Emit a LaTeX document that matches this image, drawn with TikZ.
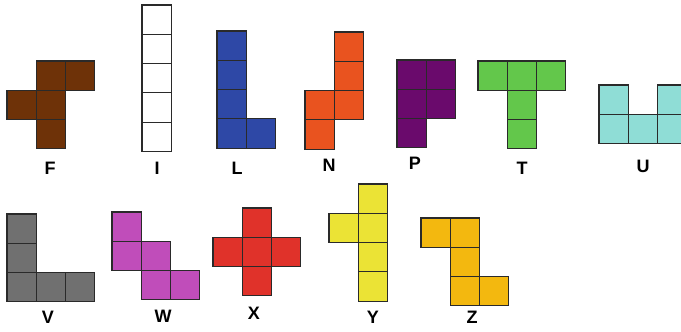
\documentclass[tikz,border=0pt]{standalone}
\usepackage{fontspec}
\setmainfont{Liberation Sans}
\definecolor{cF}{HTML}{6E3208}
\definecolor{cI}{HTML}{FFFFFF}
\definecolor{cL}{HTML}{2E48A6}
\definecolor{cN}{HTML}{E9531F}
\definecolor{cP}{HTML}{6A0A6C}
\definecolor{cT}{HTML}{63C74B}
\definecolor{cU}{HTML}{8FDDD6}
\definecolor{cV}{HTML}{707070}
\definecolor{cW}{HTML}{C04DBA}
\definecolor{cX}{HTML}{E0322A}
\definecolor{cY}{HTML}{EBE335}
\definecolor{cZ}{HTML}{F3B80F}
\definecolor{edge}{HTML}{2A2A2A}
\newcommand{\pent}[4]{% origin x, origin y, color, list of cells
  \foreach \cx/\cy in {#4}{
    \filldraw[cellbox, fill=#3] ({#1+\cx*29.3},{#2+\cy*29.3}) rectangle ++(29.3,29.3);
  }}
\begin{document}
\begin{tikzpicture}[x=1pt,y=-1pt,
  cellbox/.style={draw=edge, line width=1.1pt},
  lbl/.style={font=\fontsize{18}{18}\selectfont\bfseries, text=black, inner sep=0pt}]
\useasboundingbox (0,0) rectangle (681,332);
\pent{7}{61}{cF}{1/0,2/0,0/1,1/1,1/2}
\pent{142}{5}{cI}{0/0,0/1,0/2,0/3,0/4}
\pent{217}{31}{cL}{0/0,0/1,0/2,0/3,1/3}
\pent{305}{32}{cN}{1/0,1/1,1/2,0/2,0/3}
\pent{397}{60}{cP}{0/0,1/0,0/1,1/1,0/2}
\pent{478}{61}{cT}{0/0,1/0,2/0,1/1,1/2}
\pent{599}{85}{cU}{0/0,2/0,0/1,1/1,2/1}
\pent{7}{214}{cV}{0/0,0/1,0/2,1/2,2/2}
\pent{112}{212}{cW}{0/0,0/1,1/1,1/2,2/2}
\pent{213}{208}{cX}{1/0,0/1,1/1,2/1,1/2}
\pent{329}{184}{cY}{1/0,0/1,1/1,1/2,1/3}
\pent{421}{218}{cZ}{0/0,1/0,1/1,1/2,2/2}
\node[lbl] (lF) at (50,168) {F};
\node[lbl] (lI) at (157,168) {I};
\node[lbl] (lL) at (237,168) {L};
\node[lbl] (lN) at (329,165) {N};
\node[lbl] (lP) at (415,163) {P};
\node[lbl] (lT) at (522,168) {T};
\node[lbl] (lU) at (643,166) {U};
\node[lbl] (lV) at (48,317) {V};
\node[lbl] (lW) at (163,316) {W};
\node[lbl] (lX) at (254,313) {X};
\node[lbl] (lY) at (373,317) {Y};
\node[lbl] (lZ) at (472,317) {Z};
\end{tikzpicture}
\end{document}
